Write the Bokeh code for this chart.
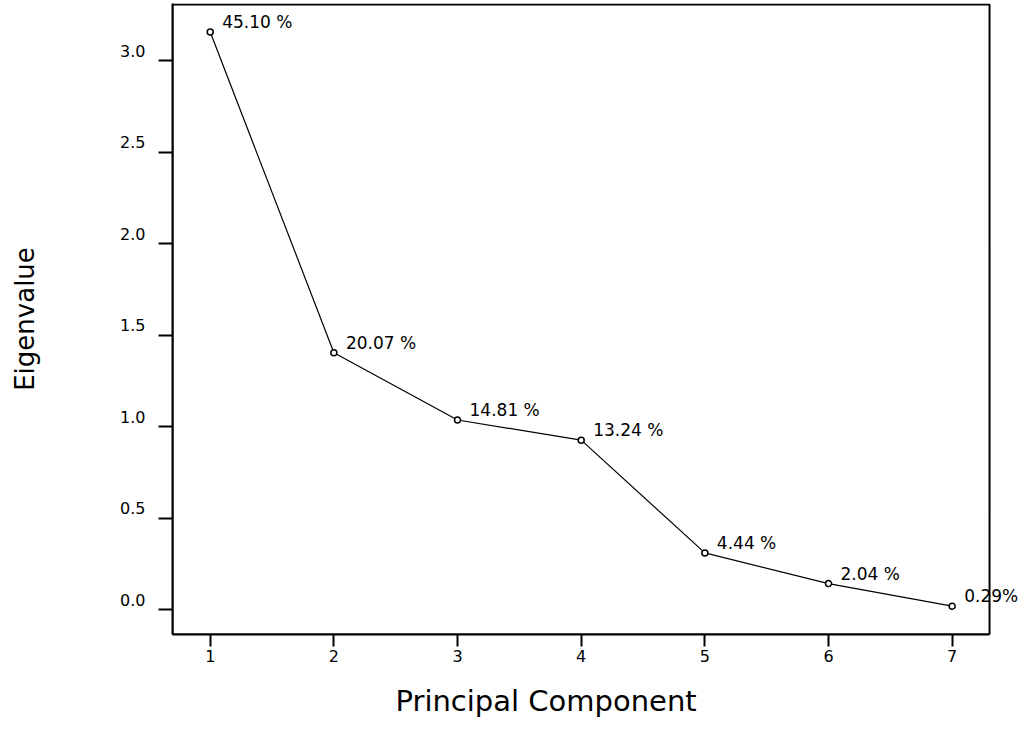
from bokeh.plotting import figure
from bokeh.models import (ColumnDataSource, LabelSet, FixedTicker, Range1d, LinearAxis,
                          BoxAnnotation, CustomJSTickFormatter, Title)
from bokeh.core.properties import value
from bokeh.embed import file_html
from bokeh.resources import INLINE

components = [1, 2, 3, 4, 5, 6, 7]
eigenvalues = [3.157, 1.405, 1.037, 0.927, 0.311, 0.143, 0.020]
pct_labels = ["45.10 %", "20.07 %", "14.81 %", "13.24 %", "4.44 %", "2.04 %", "0.29%"]
y_ticks = [0.0, 0.5, 1.0, 1.5, 2.0, 2.5, 3.0]
x_title = "Principal Component"
y_title = "Eigenvalue"

FONT = "DejaVu Sans"

# box (frame) limits in data units
X0, X1 = 0.695, 7.302
Y0, Y1, Y_END = -0.135, 3.308, 3.313
LABEL_SHIFT = 10 / 183.0   # tick labels sit ~10px above their ticks

src = ColumnDataSource(dict(x=components, y=eigenvalues, t=pct_labels))

p = figure(width=1027, height=734, output_backend="svg", toolbar_location=None,
           x_range=Range1d(X0, 7.609), y_range=Range1d(Y0, Y_END),
           min_border_left=172, min_border_right=0, min_border_top=3, min_border_bottom=100)
p.extra_y_ranges = {"lab": Range1d(Y0 - LABEL_SHIFT, Y_END - LABEL_SHIFT)}

p.background_fill_color = "white"
p.border_fill_color = "white"
p.outline_line_color = None
p.xgrid.visible = False
p.ygrid.visible = False

p.add_layout(BoxAnnotation(left=X0, right=X1, bottom=Y0, top=Y1, fill_color=None,
                           fill_alpha=0, line_color="black", line_alpha=1.0,
                           line_width=2, level="overlay"))

p.line("x", "y", source=src, line_color="black", line_width=1.2)
p.scatter("x", "y", source=src, marker="circle", size=6, fill_color="white",
          line_color="black", line_width=1.5)

labels = LabelSet(x="x", y="y", text="t", source=src, x_offset=12, y_offset=10,
                  text_font=value(FONT), text_font_size="17px", text_color="black",
                  text_baseline="middle", text_align="left")
p.add_layout(labels)

# x axis
xa = p.xaxis[0]
xa.ticker = FixedTicker(ticks=components)
xa.bounds = (X0, X1)
xa.axis_line_color = "black"
xa.axis_line_width = 2
xa.major_tick_line_color = "black"
xa.major_tick_line_width = 2
xa.major_tick_in = 0
xa.major_tick_out = 12
xa.minor_tick_line_color = None
xa.major_label_text_font = FONT
xa.major_label_text_font_size = "16px"
xa.major_label_text_color = "black"
xa.major_label_standoff = 3

# main y axis: ticks only
ya = p.yaxis[0]
ya.ticker = FixedTicker(ticks=y_ticks)
ya.formatter = CustomJSTickFormatter(code="return '';")
ya.axis_line_color = "black"
ya.axis_line_width = 2
ya.major_tick_line_color = "black"
ya.major_tick_line_width = 2
ya.major_tick_in = 0
ya.major_tick_out = 14
ya.minor_tick_line_color = None
ya.major_label_text_font = FONT
ya.major_label_text_font_size = "16px"

# label axis: tick labels raised a little, plus the axis title
yl = LinearAxis(y_range_name="lab", ticker=FixedTicker(ticks=y_ticks),
                formatter=CustomJSTickFormatter(code="return tick.toFixed(1);"),
                axis_line_color=None, major_tick_line_color=None, minor_tick_line_color=None,
                major_tick_in=0, major_tick_out=0, major_label_standoff=13,
                major_label_text_font=FONT, major_label_text_font_size="16px",
                major_label_text_color="black",
                axis_label=y_title, axis_label_text_font=FONT,
                axis_label_text_font_size="26px", axis_label_text_font_style="normal",
                axis_label_text_color="black", axis_label_standoff=77)
p.add_layout(yl, "left")

xt = Title(text=x_title, align="left", offset=223, standoff=34,
           text_font=FONT, text_font_size="29px", text_font_style="normal",
           text_color="black")
p.add_layout(xt, "below")

open("out.html", "w").write(file_html(p, INLINE))
